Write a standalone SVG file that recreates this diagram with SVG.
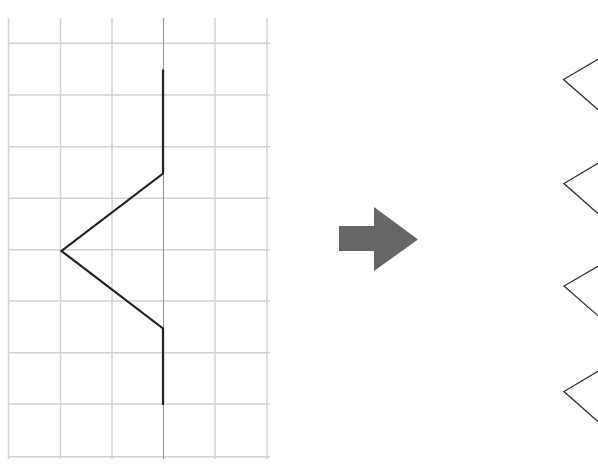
<svg xmlns="http://www.w3.org/2000/svg" width="598" height="475" viewBox="0 0 598 475">
<style>
.g{stroke:#d2d2d2;stroke-width:1.5;fill:none}
.gc{stroke:#9a9a9a;stroke-width:1.2;fill:none}
.z{stroke:#222;stroke-width:2.2;fill:none;stroke-linejoin:miter}
.s{stroke:#333;stroke-width:1.3;fill:none}
</style>
<rect width="598" height="475" fill="#fff"/>
<g id="grid">
<path class="g" d="M8.5 18V459M60.5 18V459M112 18V459M215 18V459M267 18V459"/>
<path class="g" d="M8 43.3H270M8 95H270M8 146.7H270M8 198.3H270M8 249.7H270M8 301H270M8 352.7H270M8 404H270M8 456.7H270"/>
<path class="gc" d="M163.5 18V459"/>
</g>
<g id="zigzag">
<path class="z" d="M163 69.5V173.5L61.5 251L163 328.5V405"/>
</g>
<g id="arrow">
<path fill="#666" d="M339 226H374V207L418 239.5L374 271V251H339Z"/>
</g>
<g id="result">
<path class="s" d="M612 51L563.5 79.5L612 122"/>
<path class="s" d="M612 155L564 183.5L612 226"/>
<path class="s" d="M612 258L564 286L612 328"/>
<path class="s" d="M612 363L564 391.5L612 434"/>
</g>
</svg>
